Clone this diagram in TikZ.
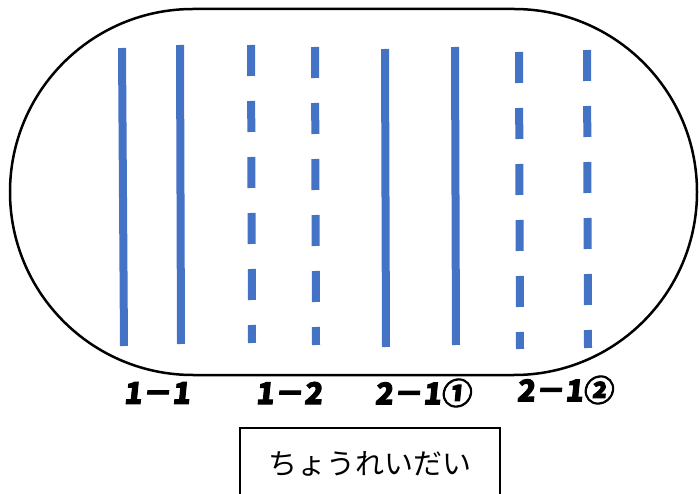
\documentclass[tikz,border=0pt]{standalone}
\usepackage{fontspec}
\usepackage{tikz}
\usetikzlibrary{positioning}
\newfontfamily\jpfont{Noto Sans CJK JP}
\newfontfamily\lanefont[FakeSlant=0.1,BoldFeatures={FakeBold=3}]{Noto Sans CJK JP}
\definecolor{laneblue}{HTML}{4472C4}

\begin{document}
\begin{tikzpicture}[
    x=1pt, y=-1pt,
    solidlane/.style={draw=laneblue, line width=8pt},
    dashlane/.style={draw=laneblue, line width=8pt, dash pattern=on 31pt off 25pt},
    lanelabel/.style={font=\lanefont\bfseries\fontsize{30}{32}\selectfont, inner sep=0pt},
    titlebox/.style={draw, line width=1.5pt, font=\jpfont\fontsize{29}{32}\selectfont, minimum width=260pt, minimum height=72pt}
]
\clip (0,0) rectangle (699,494);
% track outline
\draw[line width=2.5pt, rounded corners=183pt] (10,9) rectangle (697,375);
% solid lanes
\draw[solidlane] (122,48) -- (124,346);
\draw[solidlane] (180,45) -- (181,344);
\draw[solidlane] (385,49) -- (386,347);
\draw[solidlane] (455,47) -- (456,345);
% dashed lanes
\draw[dashlane] (251,45) -- (252,343);
\draw[dashlane] (315,47) -- (316,345);
\draw[dashlane] (519,52) -- (520,349);
\draw[dashlane] (587,50) -- (588,348);
% labels
\node[lanelabel] (l1) at (157,393) {1－1};
\node[lanelabel] (l2) at (289,393) {1－2};
\node[lanelabel] (l3) at (423,393) {2－1①};
\node[lanelabel] (l4) at (565,390) {2－1②};
\node[titlebox] (title) at (370,464) {ちょうれいだい};
\end{tikzpicture}
\end{document}
